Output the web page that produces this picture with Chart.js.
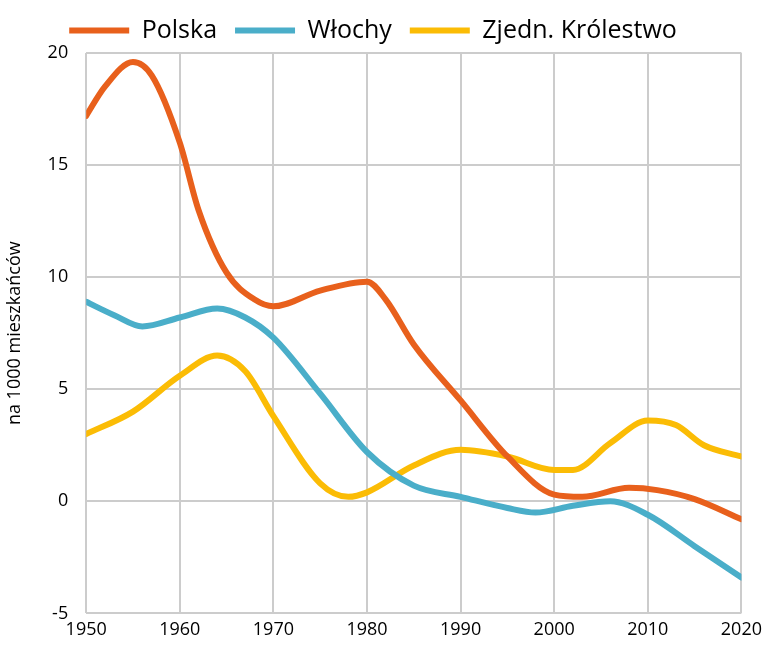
<!DOCTYPE html>
<html>
<head>
<meta charset="utf-8">
<script src="https://cdn.jsdelivr.net/npm/chart.js@4"></script>
<style>
  html, body { margin: 0; padding: 0; background: #fff; }
  #wrap { width: 768px; height: 647px; }
</style>
</head>
<body>
<div id="wrap"><canvas id="chart"></canvas></div>
<script>
// Readings from the picture (year, value per 1000 inhabitants)
const polskaYears = [1950, 1952, 1955, 1957, 1960, 1962, 1965, 1968, 1970, 1975, 1980, 1982, 1985, 1990, 1995, 2000, 2003, 2008, 2011, 2015, 2020];
const polskaValues = [17.2, 18.5, 19.6, 19.0, 16.0, 13.0, 10.2, 9.0, 8.7, 9.4, 9.8, 9.0, 7.0, 4.5, 2.0, 0.3, 0.2, 0.6, 0.5, 0.1, -0.8];

const wlochyYears = [1950, 1953, 1956, 1960, 1964, 1967, 1970, 1975, 1980, 1985, 1990, 1995, 1998, 2002, 2006, 2010, 2015, 2020];
const wlochyValues = [8.9, 8.3, 7.8, 8.2, 8.6, 8.2, 7.3, 4.8, 2.2, 0.7, 0.2, -0.3, -0.5, -0.2, 0.0, -0.6, -2.0, -3.4];

const ukYears = [1950, 1955, 1960, 1964, 1967, 1970, 1975, 1978, 1980, 1985, 1990, 1995, 2000, 2002, 2006, 2010, 2013, 2016, 2020];
const ukValues = [3.0, 4.0, 5.6, 6.5, 5.8, 3.8, 0.8, 0.2, 0.4, 1.6, 2.3, 2.0, 1.4, 1.4, 2.6, 3.6, 3.4, 2.5, 2.0];

const seriesNames = ['Polska', 'Włochy', 'Zjedn. Królestwo'];
const seriesColors = ['#e8601c', '#4aaec9', '#fbbc05'];

const toPoints = (xs, ys) => xs.map((x, i) => ({ x: x, y: ys[i] }));

const datasets = [
    toPoints(polskaYears, polskaValues),
    toPoints(wlochyYears, wlochyValues),
    toPoints(ukYears, ukValues)
].map((pts, i) => ({
    label: seriesNames[i],
    data: pts,
    borderColor: seriesColors[i],
    backgroundColor: seriesColors[i],
    borderWidth: 6,
    borderCapStyle: 'round',
    pointRadius: 0,
    cubicInterpolationMode: 'monotone'
}));

new Chart(document.getElementById('chart'), {
    type: 'line',
    data: { datasets: datasets },
    options: {
        responsive: true,
        maintainAspectRatio: false,
        animation: false,
        layout: { padding: { left: 0, right: 22, top: 0, bottom: 0 } },
        plugins: {
            legend: {
                position: 'top',
                labels: {
                    usePointStyle: true,
                    pointStyle: 'line',
                    pointStyleWidth: 60,
                    boxHeight: 6,
                    padding: 18,
                    color: '#000',
                    font: { family: 'Open Sans', size: 25 }
                }
            },
            tooltip: { enabled: false }
        },
        scales: {
            x: {
                type: 'linear',
                min: 1950, max: 2020,
                ticks: { stepSize: 10, color: '#000', padding: 6, font: { family: 'Open Sans', size: 18 },
                    callback: v => String(v) },
                grid: { color: '#cccccc', lineWidth: 2, drawTicks: false },
                border: { display: false }
            },
            y: {
                min: -5, max: 20,
                ticks: { stepSize: 5, color: '#000', padding: 18, font: { family: 'Open Sans', size: 18 } },
                grid: { color: '#cccccc', lineWidth: 2, drawTicks: false },
                border: { display: false },
                title: { display: true, text: 'na 1000 mieszkańców', color: '#000', font: { family: 'Open Sans', size: 18 } }
            }
        }
    }
});
</script>
</body>
</html>
